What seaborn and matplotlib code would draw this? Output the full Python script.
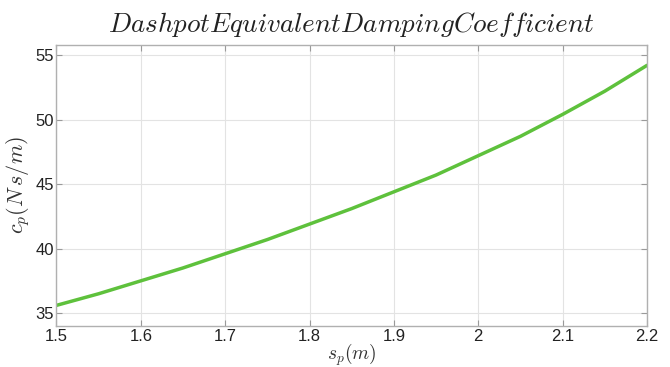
import matplotlib
matplotlib.use("Agg")
import matplotlib.pyplot as plt
import pandas as pd
import seaborn as sns

# Piston stroke s_p (m) and equivalent dashpot damping coefficient c_p (N s/m)
stroke = [1.50, 1.55, 1.60, 1.65, 1.70, 1.75, 1.80, 1.85,
          1.90, 1.95, 2.00, 2.05, 2.10, 2.15, 2.20]
damping = [35.6, 36.5, 37.5, 38.5, 39.6, 40.7, 41.9, 43.1,
           44.4, 45.7, 47.2, 48.7, 50.4, 52.2, 54.2]

x_ticks = [1.5, 1.6, 1.7, 1.8, 1.9, 2.0, 2.1, 2.2]
x_tick_labels = ["1.5", "1.6", "1.7", "1.8", "1.9", "2", "2.1", "2.2"]
y_ticks = [35, 40, 45, 50, 55]

df = pd.DataFrame({"s_p": stroke, "c_p": damping})

sns.set_style("whitegrid")
plt.rcParams["font.family"] = ["Liberation Sans", "DejaVu Sans"]
plt.rcParams["mathtext.fontset"] = "cm"

fig = plt.figure(figsize=(6.7, 3.67), dpi=100)
ax = fig.add_axes([0.0843, 0.1117, 0.8814, 0.7665])

sns.lineplot(data=df, x="s_p", y="c_p", ax=ax, color="#5ec13c", linewidth=2.5)

ax.set_xlim(1.5, 2.2)
ax.set_ylim(34.0, 55.8)
ax.set_xticks(x_ticks)
ax.set_xticklabels(x_tick_labels)
ax.set_yticks(y_ticks)

ax.grid(True, color="#e3e3e3", linewidth=0.8)
for side in ax.spines.values():
    side.set_visible(True)
    side.set_color("#b0b0b0")
    side.set_linewidth(1.0)

ax.tick_params(axis="both", direction="in", length=4, width=0.8, color="#9a9a9a",
               labelsize=12, labelcolor="#222222", top=True, right=True,
               left=True, bottom=True, pad=2)

ax.set_xlabel(r"$s_p(m)$", fontsize=14, color="#333333", labelpad=-2)
ax.set_ylabel(r"$c_p(N\,s/m)$", fontsize=16, color="#333333", labelpad=2)
ax.set_title(r"$Dashpot Equivalent Damping Coefficient$", fontsize=19.5,
             color="#222222", pad=9)

fig.savefig("out.png", dpi=100, facecolor="white")
